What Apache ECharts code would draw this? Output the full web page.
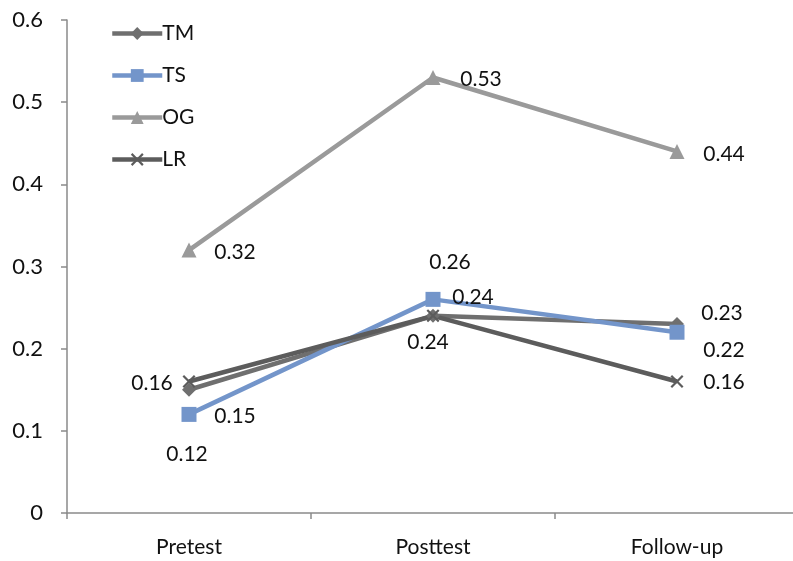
<!DOCTYPE html>
<html><head><meta charset="utf-8">
<script src="https://cdn.jsdelivr.net/npm/echarts@6/dist/echarts.min.js"></script>
<style>html,body{margin:0;padding:0;background:#fff;overflow:hidden}#c{width:800px;height:561px}</style>
</head><body><div id="c"></div>
<script>
const categories = ['Pretest', 'Posttest', 'Follow-up'];
const seriesNames = ['TM', 'TS', 'OG', 'LR'];
const TM = [0.15, 0.24, 0.23];
const TS = [0.12, 0.26, 0.22];
const OG = [0.32, 0.53, 0.44];
const LR = [0.16, 0.24, 0.16];
const yTicks = [0, 0.1, 0.2, 0.3, 0.4, 0.5, 0.6];

// label offsets (style only)
const labelOffsets = {
  TM: [[46, 26], [40, -19], [45, -11]],
  TS: [[-2, 40], [17, -37], [47, 18]],
  OG: [[46, 2], [48, 2], [47, 3]],
  LR: [[-37, 2], [-5, 26], [47, 1]]
};
const styles = {
  TM: {color: '#6f6f6f', symbol: 'diamond', size: 14},
  TS: {color: '#7395ca', symbol: 'rect', size: 15},
  OG: {color: '#9a9a9a', symbol: 'triangle', size: 15},
  LR: {color: '#5c5c5c', symbol: 'path://M0,1.2L1.2,0L5,3.8L8.8,0L10,1.2L6.2,5L10,8.8L8.8,10L5,6.2L1.2,10L0,8.8L3.8,5Z', size: 13}
};
const values = {TM, TS, OG, LR};
const FONT = 'Lato, "Noto Sans", sans-serif';

const series = seriesNames.map(n => ({
  name: n,
  type: 'line',
  data: values[n].map((v, i) => ({
    value: v,
    label: {offset: labelOffsets[n][i]}
  })),
  symbol: styles[n].symbol,
  symbolSize: styles[n].size,
  showAllSymbol: true,
  lineStyle: {color: styles[n].color, width: 4.5},
  itemStyle: {color: styles[n].color},
  label: {show: true, position: 'inside', color: '#111', fontSize: 21, fontFamily: FONT,
    formatter: p => p.value.toFixed(2)},
  emphasis: {disabled: true},
  animation: false
}));

const chart = echarts.init(document.getElementById('c'), null, {renderer: 'canvas'});
chart.setOption({
  backgroundColor: '#fff',
  animation: false,
  grid: {left: 67, top: 20, right: 1, bottom: 48, containLabel: false},
  legend: {
    orient: 'vertical', left: 105, top: 18,
    itemWidth: 50, itemHeight: 16, itemGap: 21,
    lineStyle: {width: 4.5},
    textStyle: {fontSize: 21, color: '#111', fontFamily: FONT, padding: [0, 0, 0, -5]},
    data: seriesNames
  },
  xAxis: {
    type: 'category', data: categories, boundaryGap: true,
    axisLine: {lineStyle: {color: '#8a8a8a', width: 1.5}},
    axisTick: {show: true, length: 6, lineStyle: {color: '#8a8a8a', width: 1.5}},
    axisLabel: {fontSize: 21, color: '#111', fontFamily: FONT, margin: 24}
  },
  yAxis: {
    type: 'value', min: 0, max: 0.6, interval: 0.1,
    axisLine: {show: true, lineStyle: {color: '#8a8a8a', width: 1.5}},
    axisTick: {show: true, length: 6, lineStyle: {color: '#8a8a8a', width: 1.5}},
    splitLine: {show: false},
    axisLabel: {fontSize: 22, color: '#111', fontFamily: FONT, margin: 24,
      formatter: v => { const t = yTicks.find(x => Math.abs(x - v) < 1e-9); return t === undefined ? '' : String(+t.toFixed(1)); }}
  },
  series
});
</script></body></html>
